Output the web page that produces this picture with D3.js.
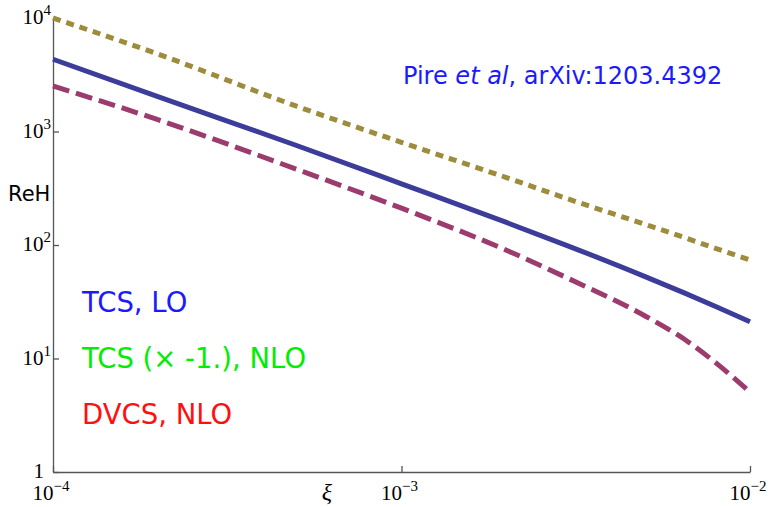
<!DOCTYPE html>
<html lang="en">
<head>
<meta charset="utf-8">
<script src="https://d3js.org/d3.v7.min.js"></script>
<style>
  body { margin: 0; background: #fff; }
  svg { display: block; }
</style>
</head>
<body>
<script>
// xi values
const xi = [1e-4, 2e-4, 5e-4, 1e-3, 2e-3, 3e-3, 5e-3, 6.5e-3, 8e-3, 1e-2];
// TCS, LO (solid)
const tcsLO = [4330, 2027, 753, 346, 158, 98.4, 52.7, 37.7, 28.6, 21.1];
// TCS (x -1), NLO (dotted)
const tcsNLO = [10000, 4810, 1670, 802, 393, 255, 152, 116, 93, 74];
// DVCS, NLO (dashed)
const dvcsNLO = [2518, 1270, 465, 211, 90, 51, 23.7, 14.7, 9.1, 5.07];

const xTicks = [1e-4, 1e-3, 1e-2];
const xTickExp = ["\u22124", "\u22123", "\u22122"];
const yTicks = [1, 10, 100, 1000, 10000];
const yTickExp = ["", "1", "2", "3", "4"];

const legendLabels = ["TCS, LO", "TCS (\u00d7 -1.), NLO", "DVCS, NLO"];
const legendColors = ["#1a1aff", "#00ee00", "#ff1010"];

const W = 771, H = 507;
const margin = {left: 53, top: 18, right: 21, bottom: 35};
const xMax = W - margin.left - margin.right;
const yMax = H - margin.top - margin.bottom;

const svg = d3.select("body").append("svg")
    .attr("width", W).attr("height", H);
const g = svg.append("g")
    .attr("transform", "translate(" + margin.left + "," + margin.top + ")");

const x = d3.scaleLog().domain([1e-4, 1e-2]).range([0, xMax]);
const y = d3.scaleLog().domain([1, 1e4]).range([yMax, 0]);

// axes, ticks pointing inward
const xAxis = g.append("g")
    .attr("transform", "translate(0," + yMax + ")")
    .call(d3.axisBottom(x).tickValues(xTicks).tickSize(-6).tickSizeOuter(0).tickFormat(""));
const yAxis = g.append("g")
    .call(d3.axisLeft(y).tickValues(yTicks).tickSize(-6).tickSizeOuter(0).tickFormat(""));
[xAxis, yAxis].forEach(a => {
    a.selectAll("path, line").attr("stroke", "#555").attr("stroke-width", 1.3);
});

// tick labels as 10^n
xTicks.forEach((t, i) => {
    const txt = g.append("text")
        .attr("x", x(t) - 2).attr("y", yMax + 28)
        .attr("text-anchor", "middle")
        .attr("font-family", "Liberation Serif, serif")
        .attr("font-size", 21);
    txt.append("tspan").text("10");
    txt.append("tspan").attr("font-size", 15).attr("dy", -9).text(xTickExp[i]);
});
yTicks.forEach((t, i) => {
    const txt = g.append("text")
        .attr("x", -2).attr("y", y(t) + 6)
        .attr("text-anchor", "end")
        .attr("font-family", "Liberation Serif, serif")
        .attr("font-size", 21);
    if (yTickExp[i] === "") {
        txt.attr("x", -9).text("1");
    } else {
        txt.append("tspan").text("10");
        txt.append("tspan").attr("font-size", 15).attr("dy", -9).text(yTickExp[i]);
    }
});

// axis titles
g.append("text")
    .attr("x", x(1e-4 * Math.pow(10, 0.8)) - 5).attr("y", yMax + 28)
    .attr("text-anchor", "middle")
    .attr("font-family", "Liberation Serif, serif")
    .attr("font-style", "italic")
    .attr("font-size", 24)
    .text("\u03be");
svg.append("text")
    .attr("x", 8).attr("y", 201)
    .attr("font-family", "DejaVu Sans, sans-serif")
    .attr("font-size", 21)
    .text("ReH");

// curves
const line = d3.line()
    .x(d => x(d[0]))
    .y(d => y(d[1]))
    .curve(d3.curveMonotoneX);

const series = [
    {vals: tcsNLO, color: "#9c8c3c", dash: "8,6"},
    {vals: tcsLO, color: "#3c3c9a", dash: null},
    {vals: dvcsNLO, color: "#9c3c6e", dash: "17,7"}
];
series.forEach(s => {
    g.append("path")
        .datum(xi.map((v, i) => [v, s.vals[i]]))
        .attr("fill", "none")
        .attr("stroke", s.color)
        .attr("stroke-width", 5)
        .attr("stroke-dasharray", s.dash)
        .attr("d", line);
});

// legend
legendLabels.forEach((l, i) => {
    svg.append("text")
        .attr("x", 82).attr("y", 312 + i * 56)
        .attr("font-family", "DejaVu Sans, sans-serif")
        .attr("font-size", 27.5)
        .attr("fill", legendColors[i])
        .text(l);
});

// reference note
const note = svg.append("text")
    .attr("x", 403).attr("y", 84)
    .attr("font-family", "DejaVu Sans, sans-serif")
    .attr("font-size", 24)
    .attr("fill", "#1a1aff");
note.append("tspan").text("Pire ");
note.append("tspan").attr("font-style", "italic").text("et al");
note.append("tspan").text(", arXiv:1203.4392");
</script>
</body>
</html>
